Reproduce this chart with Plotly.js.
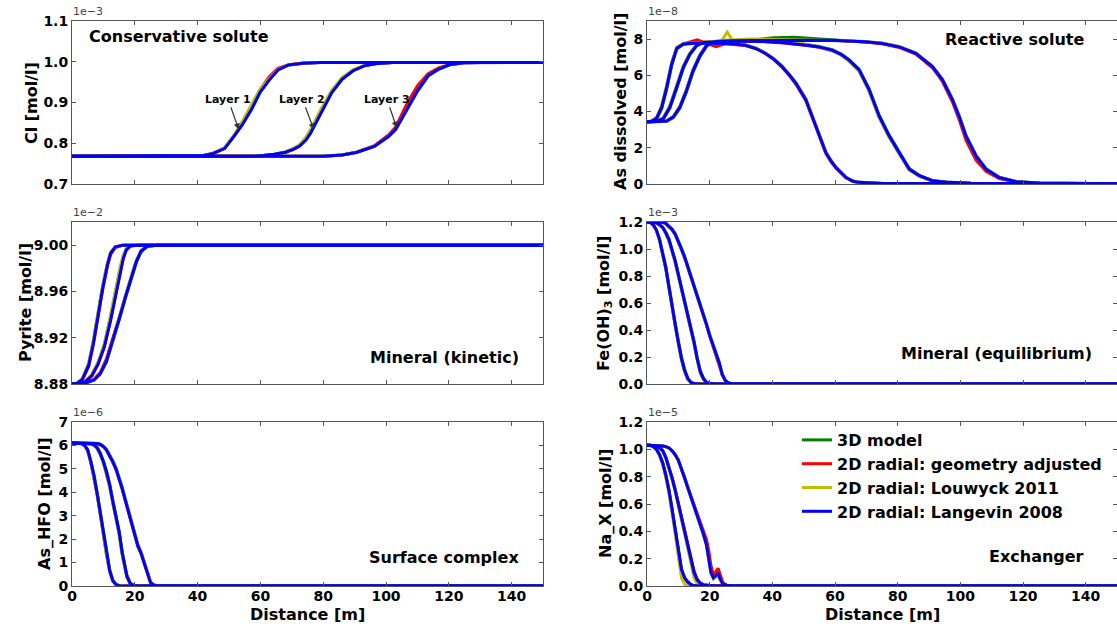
<!DOCTYPE html>
<html>
<head>
<meta charset="utf-8">
<script src="https://cdn.plot.ly/plotly-3.0.1.min.js"></script>
<style>html,body{margin:0;padding:0;background:#fff}#chart{width:1117px;height:624px}</style>
</head>
<body>
<div id="chart"></div>
<script>
// ---------------- series ----------------
const seriesNames = ['3D model', '2D radial: geometry adjusted', '2D radial: Louwyck 2011', '2D radial: Langevin 2008'];
const seriesColors = ['#008000', '#ff0000', '#bfbf00', '#0000ff'];

// ---------------- Conservative solute: Cl [1e-3 mol/l] ----------------
const clX1 = [0,40,42,45,48.6,51.4,54.2,57.1,59.9,62.8,65.6,69,73.6,79,150];
const cl1_3d  = [0.768,0.769,0.770,0.775,0.788,0.816,0.846,0.883,0.926,0.956,0.980,0.992,0.9965,0.998,0.998];
const cl1_geo = [0.768,0.769,0.770,0.775,0.788,0.816,0.847,0.886,0.931,0.963,0.984,0.993,0.9967,0.998,0.998];
const cl1_lou = [0.768,0.769,0.770,0.776,0.789,0.818,0.853,0.894,0.933,0.958,0.981,0.992,0.9965,0.998,0.998];
const cl1_lan = [0.768,0.769,0.770,0.775,0.787,0.815,0.845,0.882,0.925,0.955,0.980,0.992,0.9965,0.998,0.998];
const clX2 = [0,58,61,64.5,68,70.5,72.5,74.5,76,79.3,82.7,86,89.5,93,97.5,102,150];
const cl2_3d  = [0.768,0.768,0.770,0.773,0.778,0.786,0.794,0.809,0.826,0.876,0.925,0.957,0.978,0.990,0.996,0.998,0.998];
const cl2_geo = [0.768,0.768,0.770,0.773,0.778,0.785,0.794,0.810,0.828,0.879,0.927,0.959,0.979,0.990,0.996,0.998,0.998];
const cl2_lou = [0.768,0.768,0.770,0.773,0.779,0.787,0.797,0.815,0.834,0.884,0.930,0.961,0.980,0.991,0.996,0.998,0.998];
const cl2_lan = [0.768,0.768,0.770,0.773,0.778,0.785,0.793,0.808,0.825,0.875,0.924,0.957,0.978,0.990,0.996,0.998,0.998];
const clX3 = [0,80,86,90.6,96.3,100.9,103.1,106.6,110,113.4,116.8,120.2,124.8,130,150];
const cl3_3d  = [0.768,0.768,0.771,0.778,0.793,0.820,0.837,0.885,0.929,0.965,0.982,0.9926,0.9975,0.998,0.998];
const cl3_geo = [0.768,0.768,0.771,0.778,0.794,0.821,0.840,0.896,0.941,0.971,0.985,0.9935,0.9977,0.998,0.998];
const cl3_lou = [0.768,0.768,0.771,0.7775,0.792,0.817,0.833,0.881,0.926,0.964,0.981,0.9925,0.9975,0.998,0.998];
const cl3_lan = [0.768,0.768,0.771,0.7775,0.792,0.817,0.834,0.883,0.928,0.9655,0.982,0.9926,0.9975,0.998,0.998];

// ---------------- Reactive solute: As dissolved [1e-8 mol/l] ----------------
const asX1 = [0,1.5,3.1,4.7,6.3,7.9,9.5,11.6,16,22,25,28.2,31.4,34.8,37.8,40.4,43.1,45.3,47.5,50.7,52.7,54.9,57.1,58.7,60.3,63.5,65.8,67.7,71.4,75.2,150];
const as1_3d  = [3.43,3.46,3.6,4.15,5.25,6.55,7.45,7.72,7.78,7.8,7.77,7.73,7.67,7.5,7.23,6.92,6.5,6.07,5.6,4.68,3.76,2.68,1.75,1.3,0.92,0.37,0.15,0.09,0.05,0.03,0.02];
const as1_geo = [3.43,3.47,3.66,4.28,5.4,6.68,7.52,7.74,7.96,7.58,7.74,7.71,7.65,7.47,7.2,6.88,6.45,6.02,5.52,4.6,3.68,2.6,1.68,1.24,0.88,0.34,0.14,0.08,0.05,0.03,0.02];
const as1_lou = [3.43,3.48,3.7,4.35,5.48,6.72,7.55,7.75,7.8,7.8,7.77,7.73,7.67,7.5,7.24,6.93,6.52,6.08,5.6,4.7,3.8,2.72,1.8,1.33,0.95,0.38,0.16,0.09,0.05,0.03,0.02];
const as1_lan = [3.43,3.47,3.65,4.25,5.35,6.63,7.5,7.73,7.78,7.79,7.76,7.72,7.66,7.48,7.21,6.9,6.48,6.05,5.57,4.65,3.74,2.65,1.73,1.28,0.91,0.36,0.15,0.09,0.05,0.03,0.02];
const asX2 = [0,2,3.5,5.2,7.3,9.5,11.6,13.7,15.8,17.9,22,24,25.6,27.3,31,37.6,43.7,48.5,51.7,54.9,59.1,62,64.5,67.7,70.9,74.1,77.3,80.5,83.7,86.9,91.1,96.4,103.4,150];
const as2_3d  = [3.43,3.45,3.49,3.58,4.18,5.28,6.4,7.15,7.62,7.81,7.87,7.88,7.88,7.89,7.9,7.9,7.85,7.76,7.68,7.6,7.42,7.18,6.87,6.34,5.25,3.8,2.7,1.78,0.86,0.48,0.19,0.09,0.04,0.02];
const as2_geo = [3.43,3.45,3.51,3.64,4.3,5.4,6.5,7.22,7.66,7.83,7.86,7.87,7.87,7.88,7.88,7.86,7.79,7.71,7.63,7.55,7.36,7.12,6.8,6.25,5.14,3.68,2.6,1.68,0.78,0.44,0.17,0.08,0.04,0.02];
const as2_lou = [3.43,3.45,3.52,3.66,4.33,5.43,6.52,7.24,7.68,7.84,7.88,7.95,8.39,7.92,7.95,7.95,7.88,7.78,7.68,7.58,7.38,7.12,6.78,6.22,5.1,3.65,2.58,1.66,0.78,0.43,0.17,0.08,0.04,0.02];
const as2_lan = [3.43,3.45,3.5,3.61,4.25,5.35,6.45,7.18,7.64,7.82,7.87,7.88,7.88,7.89,7.89,7.87,7.8,7.72,7.65,7.57,7.39,7.15,6.84,6.3,5.2,3.74,2.65,1.73,0.82,0.46,0.18,0.09,0.04,0.02];
const asX3 = [0,3,6.3,8.4,10.5,12.6,14.7,16.9,19,20.6,23.5,32.9,40.4,47,51.7,59.1,63.9,69.8,75.1,80.5,85.8,91.1,94.3,97.5,99.6,101.8,105,108.2,112.4,117.8,125.2,150];
const as3_3d  = [3.43,3.44,3.46,3.66,4.18,5.08,6.18,7.03,7.6,7.8,7.88,7.94,8.08,8.1,8.05,7.97,7.92,7.86,7.77,7.58,7.23,6.5,5.78,4.7,3.8,2.7,1.6,0.85,0.38,0.14,0.05,0.02];
const as3_geo = [3.43,3.44,3.49,3.72,4.28,5.2,6.3,7.12,7.66,7.83,7.88,7.92,7.93,7.93,7.93,7.93,7.89,7.84,7.74,7.54,7.17,6.42,5.66,4.52,3.58,2.42,1.32,0.7,0.3,0.11,0.04,0.02];
const as3_lou = [3.43,3.44,3.49,3.73,4.3,5.22,6.32,7.13,7.67,7.84,7.93,8.0,7.98,7.96,7.95,7.95,7.91,7.87,7.79,7.6,7.24,6.52,5.8,4.7,3.78,2.68,1.58,0.84,0.37,0.13,0.05,0.02];
const as3_lan = [3.43,3.44,3.48,3.7,4.25,5.16,6.26,7.09,7.64,7.82,7.88,7.92,7.93,7.94,7.94,7.94,7.9,7.85,7.76,7.57,7.21,6.48,5.75,4.65,3.74,2.65,1.55,0.82,0.36,0.13,0.05,0.02];

// ---------------- Mineral (kinetic): Pyrite [1e-2 mol/l] ----------------
const pyX1 = [0,1.5,3.3,5.3,6.8,8.3,9.8,11.3,12.3,13.8,16.3,150];
const py1_3d  = [8.880,8.8805,8.8845,8.897,8.917,8.942,8.965,8.984,8.993,8.9985,9.0,9.0];
const py1_geo = [8.880,8.8805,8.8835,8.895,8.914,8.939,8.962,8.982,8.992,8.998,9.0,9.0];
const py1_lou = [8.880,8.8806,8.885,8.898,8.918,8.943,8.966,8.985,8.994,8.9985,9.0,9.0];
const py1_lan = [8.880,8.8805,8.884,8.896,8.915,8.940,8.963,8.983,8.993,8.9985,9.0,9.0];
const pyX2 = [0,2.5,4.3,6.3,8.3,10.3,12.3,13.8,15.3,16.3,17.3,18.8,21.3,150];
const py2_3d  = [8.880,8.8805,8.882,8.887,8.898,8.914,8.938,8.959,8.979,8.990,8.997,8.9995,9.0,9.0];
const py2_geo = [8.880,8.8805,8.8825,8.888,8.898,8.913,8.936,8.956,8.976,8.989,8.996,8.9995,9.0,9.0];
const py2_lou = [8.880,8.8805,8.882,8.888,8.899,8.915,8.940,8.962,8.981,8.991,8.997,8.9995,9.0,9.0];
const py2_lan = [8.880,8.8805,8.882,8.887,8.897,8.912,8.935,8.955,8.975,8.988,8.996,8.9995,9.0,9.0];
const pyX3 = [0,4,7,9,11,13,15,17,19,20.5,22,24,27,150];
const py3_3d  = [8.880,8.8805,8.8835,8.8885,8.899,8.916,8.935,8.954,8.972,8.985,8.994,8.999,9.0,9.0];
const py3_geo = [8.880,8.8805,8.884,8.890,8.902,8.919,8.937,8.956,8.974,8.986,8.995,8.999,9.0,9.0];
const py3_lou = [8.880,8.8805,8.8835,8.889,8.900,8.917,8.937,8.957,8.975,8.987,8.995,8.999,9.0,9.0];
const py3_lan = [8.880,8.8805,8.8835,8.889,8.900,8.917,8.936,8.955,8.973,8.986,8.995,8.999,9.0,9.0];

// ---------------- Mineral (equilibrium): Fe(OH)3 [1e-3 mol/l] ----------------
const feX1 = [0,1,2,3,4,5,6,7,8,9,10,11,12,13,14,15,17,150];
const fe1_3d  = [1.2,1.198,1.18,1.14,1.075,0.98,0.87,0.73,0.58,0.45,0.32,0.2,0.11,0.045,0.014,0.003,0,0];
const fe1_geo = [1.2,1.197,1.178,1.137,1.066,0.965,0.855,0.715,0.565,0.435,0.305,0.185,0.095,0.038,0.011,0.003,0,0];
const fe1_lou = [1.2,1.198,1.179,1.138,1.067,0.966,0.855,0.714,0.563,0.43,0.3,0.18,0.09,0.033,0.01,0.002,0,0];
const fe1_lan = [1.2,1.198,1.18,1.14,1.07,0.97,0.86,0.72,0.57,0.44,0.31,0.19,0.10,0.04,0.012,0.003,0,0];
const feX2 = [0,2,3,4,5,6,7,8,9,10,11,12,13,14,15,16,17,18,19,20,22,150];
const fe2_3d  = [1.2,1.2,1.195,1.182,1.162,1.124,1.075,0.995,0.915,0.815,0.715,0.61,0.53,0.43,0.32,0.2,0.1,0.045,0.014,0.003,0,0];
const fe2_geo = [1.2,1.2,1.194,1.178,1.157,1.116,1.064,0.985,0.905,0.805,0.705,0.595,0.515,0.415,0.305,0.185,0.088,0.038,0.011,0.003,0,0];
const fe2_lou = [1.2,1.2,1.194,1.178,1.156,1.115,1.063,0.983,0.9,0.8,0.7,0.59,0.505,0.405,0.295,0.175,0.08,0.034,0.01,0.002,0,0];
const fe2_lan = [1.2,1.2,1.195,1.18,1.16,1.12,1.07,0.99,0.91,0.81,0.71,0.6,0.52,0.42,0.31,0.19,0.09,0.04,0.012,0.003,0,0];
const feX3 = [0,4,5,6,7,8,9,10,11,12,13,14,15,16,17,18,19,20,21,22,23,24,25,26,27,30,150];
const fe3_3d  = [1.2,1.2,1.198,1.19,1.172,1.148,1.115,1.066,1.006,0.946,0.876,0.806,0.736,0.666,0.596,0.516,0.446,0.366,0.296,0.236,0.166,0.075,0.027,0.009,0.002,0,0];
const fe3_geo = [1.2,1.2,1.197,1.188,1.168,1.142,1.106,1.055,0.995,0.935,0.865,0.795,0.725,0.655,0.585,0.505,0.435,0.355,0.285,0.225,0.155,0.068,0.024,0.008,0.002,0,0];
const fe3_lou = [1.2,1.2,1.198,1.189,1.169,1.143,1.108,1.058,0.998,0.937,0.866,0.796,0.726,0.655,0.584,0.504,0.433,0.353,0.283,0.223,0.152,0.065,0.022,0.007,0.002,0,0];
const fe3_lan = [1.2,1.2,1.198,1.19,1.17,1.145,1.11,1.06,1.0,0.94,0.87,0.8,0.73,0.66,0.59,0.51,0.44,0.36,0.29,0.23,0.16,0.07,0.025,0.008,0.002,0,0];

// ---------------- Surface complex: As_HFO [1e-6 mol/l] ----------------
const hfX1 = [0,2,3,4,5,6,7,8,9,10,11,12,13,14,15,17,150];
const hf1_3d  = [6.1,6.1,6.08,6.01,5.82,5.34,4.75,4.0,3.15,2.26,1.4,0.7,0.26,0.08,0.015,0,0];
const hf1_geo = [6.1,6.1,6.08,6.0,5.79,5.28,4.67,3.92,3.07,2.17,1.32,0.63,0.21,0.055,0.01,0,0];
const hf1_lou = [6.1,6.1,6.07,5.99,5.78,5.26,4.65,3.9,3.05,2.15,1.3,0.62,0.2,0.05,0.008,0,0];
const hf1_lan = [6.1,6.1,6.08,6.0,5.8,5.3,4.7,3.95,3.1,2.2,1.35,0.65,0.22,0.06,0.01,0,0];
const hfX2 = [0,4,6,7,8,9,10,11,12,13,14,15,16,16.8,17.5,18.5,19.5,21,23,150];
const hf2_3d  = [6.1,6.1,6.07,6.03,5.92,5.68,5.34,4.9,4.36,3.66,3.0,2.36,1.46,0.86,0.45,0.14,0.035,0.006,0,0];
const hf2_geo = [6.1,6.1,6.06,6.01,5.88,5.62,5.27,4.82,4.27,3.57,2.92,2.27,1.37,0.77,0.38,0.11,0.028,0.005,0,0];
const hf2_lou = [6.1,6.1,6.06,6.0,5.87,5.6,5.24,4.78,4.22,3.52,2.86,2.2,1.3,0.72,0.35,0.1,0.025,0.004,0,0];
const hf2_lan = [6.1,6.1,6.07,6.02,5.9,5.65,5.3,4.85,4.3,3.6,2.95,2.3,1.4,0.8,0.4,0.12,0.03,0.005,0,0];
const hfX3 = [0,6,8,9,10,11,12,13,14,15,16,17,18,19,20,21,22,23,24,25,26,27,29,150];
const hf3_3d  = [6.1,6.1,6.08,6.05,5.97,5.83,5.61,5.35,5.05,4.66,4.21,3.71,3.21,2.71,2.21,1.76,1.45,1.05,0.55,0.17,0.045,0.01,0,0];
const hf3_geo = [6.1,6.1,6.08,6.03,5.94,5.79,5.55,5.28,4.98,4.58,4.13,3.63,3.13,2.63,2.13,1.68,1.38,0.98,0.48,0.14,0.04,0.01,0,0];
const hf3_lou = [6.1,6.1,6.08,6.04,5.95,5.81,5.58,5.31,5.02,4.62,4.17,3.67,3.17,2.67,2.17,1.72,1.42,1.02,0.52,0.16,0.04,0.01,0,0];
const hf3_lan = [6.1,6.1,6.08,6.04,5.95,5.8,5.57,5.3,5.0,4.6,4.15,3.65,3.15,2.65,2.15,1.7,1.4,1.0,0.5,0.15,0.04,0.01,0,0];

// ---------------- Exchanger: Na_X [1e-5 mol/l] ----------------
const naX1 = [0,1,2,3,4,5,6,7,8,9,10,11,12,13,14,15,17,150];
const na1_3d  = [1.03,1.03,1.02,1.0,0.962,0.905,0.815,0.705,0.565,0.415,0.255,0.125,0.062,0.03,0.01,0.003,0,0];
const na1_geo = [1.03,1.03,1.019,0.998,0.958,0.897,0.806,0.695,0.554,0.404,0.245,0.117,0.058,0.028,0.01,0.003,0,0];
const na1_lou = [1.03,1.03,1.018,0.996,0.954,0.89,0.795,0.68,0.535,0.38,0.21,0.06,0.012,0.003,0,0,0,0];
const na1_lan = [1.03,1.03,1.02,1.0,0.96,0.9,0.81,0.7,0.56,0.41,0.25,0.12,0.06,0.03,0.01,0.003,0,0];
const naX2 = [0,2,3,4,5,6,7,8,9,10,11,12,13,14,15,16,17,18,20,22,150];
const na2_3d  = [1.03,1.03,1.025,1.011,0.992,0.944,0.875,0.795,0.705,0.606,0.516,0.416,0.316,0.206,0.105,0.048,0.021,0.008,0.002,0,0];
const na2_geo = [1.03,1.03,1.025,1.01,0.99,0.941,0.872,0.793,0.704,0.605,0.516,0.418,0.32,0.212,0.11,0.05,0.022,0.009,0.002,0,0];
const na2_lou = [1.03,1.03,1.024,1.008,0.986,0.935,0.863,0.781,0.69,0.589,0.497,0.395,0.29,0.17,0.06,0.015,0.004,0.001,0,0,0];
const na2_lan = [1.03,1.03,1.025,1.01,0.99,0.94,0.87,0.79,0.7,0.6,0.51,0.41,0.31,0.2,0.1,0.045,0.02,0.008,0.002,0,0];
const naX3 = [0,4,5,6,7,8,9,10,11,12,13,14,15,16,17,18,19,19.7,20.4,21.2,22,22.7,23.4,24.2,25.5,28,150];
const na3_3d  = [1.03,1.03,1.025,1.02,1.01,0.991,0.962,0.923,0.864,0.795,0.726,0.661,0.596,0.526,0.456,0.386,0.306,0.205,0.104,0.062,0.076,0.09,0.05,0.015,0.004,0,0];
const na3_geo = [1.03,1.03,1.025,1.02,1.01,0.99,0.96,0.92,0.86,0.79,0.722,0.658,0.594,0.526,0.458,0.392,0.34,0.26,0.15,0.08,0.11,0.13,0.08,0.025,0.006,0,0];
const na3_lou = [1.03,1.03,1.025,1.019,1.008,0.988,0.958,0.918,0.857,0.786,0.716,0.65,0.585,0.514,0.443,0.372,0.292,0.19,0.09,0.05,0.065,0.08,0.04,0.012,0.003,0,0];
const na3_lan = [1.03,1.03,1.025,1.02,1.01,0.99,0.96,0.92,0.86,0.79,0.72,0.655,0.59,0.52,0.45,0.38,0.3,0.2,0.1,0.06,0.075,0.09,0.05,0.015,0.004,0,0];

// ---------------- axis ticks & labels ----------------
const distTicks = [0,20,40,60,80,100,120,140];
const clTicks = [0.7,0.8,0.9,1.0,1.1];       const clTickText = ['0.7','0.8','0.9','1.0','1.1'];
const asTicks = [0,2,4,6,8];                 const asTickText = ['0','2','4','6','8'];
const pyTicks = [8.88,8.92,8.96,9.00];       const pyTickText = ['8.88','8.92','8.96','9.00'];
const feTicks = [0,0.2,0.4,0.6,0.8,1.0,1.2]; const feTickText = ['0.0','0.2','0.4','0.6','0.8','1.0','1.2'];
const hfTicks = [0,1,2,3,4,5,6,7];           const hfTickText = ['0','1','2','3','4','5','6','7'];
const naTicks = [0,0.2,0.4,0.6,0.8,1.0,1.2]; const naTickText = ['0.0','0.2','0.4','0.6','0.8','1.0','1.2'];

const yTitles = ['Cl [mol/l]', 'As dissolved [mol/l]', 'Pyrite [mol/l]', 'Fe(OH)<sub>3</sub> [mol/l]', 'As_HFO [mol/l]', 'Na_X [mol/l]'];
const panelLabels = ['Conservative solute', 'Reactive solute', 'Mineral (kinetic)', 'Mineral (equilibrium)', 'Surface complex', 'Exchanger'];
const exponents = ['1e\u22123', '1e\u22128', '1e\u22122', '1e\u22123', '1e\u22126', '1e\u22125'];
const layerNames = ['Layer 1', 'Layer 2', 'Layer 3'];
const xTitle = 'Distance [m]';

// ---------------- assemble ----------------
const panelData = [
  [[clX1, cl1_3d, cl1_geo, cl1_lou, cl1_lan], [clX2, cl2_3d, cl2_geo, cl2_lou, cl2_lan], [clX3, cl3_3d, cl3_geo, cl3_lou, cl3_lan]],
  [[asX1, as1_3d, as1_geo, as1_lou, as1_lan], [asX2, as2_3d, as2_geo, as2_lou, as2_lan], [asX3, as3_3d, as3_geo, as3_lou, as3_lan]],
  [[pyX1, py1_3d, py1_geo, py1_lou, py1_lan], [pyX2, py2_3d, py2_geo, py2_lou, py2_lan], [pyX3, py3_3d, py3_geo, py3_lou, py3_lan]],
  [[feX1, fe1_3d, fe1_geo, fe1_lou, fe1_lan], [feX2, fe2_3d, fe2_geo, fe2_lou, fe2_lan], [feX3, fe3_3d, fe3_geo, fe3_lou, fe3_lan]],
  [[hfX1, hf1_3d, hf1_geo, hf1_lou, hf1_lan], [hfX2, hf2_3d, hf2_geo, hf2_lou, hf2_lan], [hfX3, hf3_3d, hf3_geo, hf3_lou, hf3_lan]],
  [[naX1, na1_3d, na1_geo, na1_lou, na1_lan], [naX2, na2_3d, na2_geo, na2_lou, na2_lan], [naX3, na3_3d, na3_geo, na3_lou, na3_lan]]
];
const yRanges = [[0.7,1.1],[0,9],[8.88,9.02],[0,1.2],[0,7],[0,1.2]];
const yTickSets = [[clTicks,clTickText],[asTicks,asTickText],[pyTicks,pyTickText],[feTicks,feTickText],[hfTicks,hfTickText],[naTicks,naTickText]];

const W = 1117, H = 624;
const fx = p => p / W;
const fy = p => 1 - p / H;
const colPx = [[72, 543], [647, 1117]];
const rowPx = [[21, 184], [222, 384], [422, 586]];
const FONT = 'DejaVu Sans';
const AXC = '#555';

const traces = [];
for (let s = 0; s < 4; s++) {
  for (let p = 0; p < 6; p++) {
    const sfx = p === 0 ? '' : String(p + 1);
    panelData[p].forEach((layer, li) => {
      traces.push({
        type: 'scatter', mode: 'lines',
        x: layer[0], y: layer[s + 1],
        xaxis: 'x' + sfx, yaxis: 'y' + sfx,
        name: seriesNames[s], legendgroup: seriesNames[s],
        showlegend: p === 0 && li === 0,
        line: {color: seriesColors[s], width: 3},
        hoverinfo: 'skip'
      });
    });
  }
}

const layout = {
  width: W, height: H,
  margin: {l: 0, r: 0, t: 0, b: 0},
  paper_bgcolor: '#fff', plot_bgcolor: '#fff',
  font: {family: FONT, size: 14, color: '#000', weight: 'bold'},
  showlegend: true,
  legend: {
    x: fx(797), xanchor: 'left', y: fy(423), yanchor: 'top',
    font: {family: FONT, size: 16, color: '#000', weight: 'bold'},
    bgcolor: 'rgba(0,0,0,0)', borderwidth: 0, tracegroupgap: 0, itemwidth: 30
  },
  annotations: []
};

for (let p = 0; p < 6; p++) {
  const col = p % 2, row = Math.floor(p / 2);
  const sfx = p === 0 ? '' : String(p + 1);
  const [x0, x1] = colPx[col];
  const [y0, y1] = rowPx[row];
  layout['xaxis' + sfx] = {
    domain: [fx(x0), fx(x1)], anchor: 'y' + sfx, range: [0, 150],
    tickvals: distTicks, ticktext: distTicks.map(String),
    showticklabels: row === 2, ticklabelstandoff: -3,
    ticks: 'inside', ticklen: 4, tickcolor: AXC, tickwidth: 1,
    mirror: 'allticks', showline: true, linecolor: AXC, linewidth: 1,
    showgrid: false, zeroline: false, automargin: false,
    tickfont: {family: FONT, size: 14, color: '#000', weight: 'bold'}
  };
  layout['yaxis' + sfx] = {
    domain: [fy(y1), fy(y0)], anchor: 'x' + sfx, range: yRanges[p],
    tickvals: yTickSets[p][0], ticktext: yTickSets[p][1],
    ticks: 'inside', ticklen: 4, tickcolor: AXC, tickwidth: 1,
    mirror: 'allticks', showline: true, linecolor: AXC, linewidth: 1,
    showgrid: false, zeroline: false, automargin: false,
    tickfont: {family: FONT, size: 14, color: '#000', weight: 'bold'}
  };
  layout.annotations.push({
    xref: 'paper', yref: 'paper', x: fx(x0 - 1), y: fy(y0 - 1), xanchor: 'left', yanchor: 'bottom',
    text: exponents[p], showarrow: false,
    font: {family: FONT, size: 11, color: '#444', weight: 'normal'}
  });
}

// y axis titles
const yTitlePx = [[32, 103], [621, 102], [25, 303], [604, 303], [44, 504], [605, 504]];
yTitles.forEach((t, i) => layout.annotations.push({
  xref: 'paper', yref: 'paper', x: fx(yTitlePx[i][0]), y: fy(yTitlePx[i][1]),
  xanchor: 'center', yanchor: 'middle', textangle: -90, text: t, showarrow: false,
  font: {family: FONT, size: 16, color: '#000', weight: 'bold'}
}));
// x axis titles
[307.5, 882].forEach(cx => layout.annotations.push({
  xref: 'paper', yref: 'paper', x: fx(cx), y: fy(614), xanchor: 'center', yanchor: 'middle',
  text: xTitle, showarrow: false, font: {family: FONT, size: 16, color: '#000', weight: 'bold'}
}));
// panel labels
const panelLabelPos = [[87, 36, 'left'], [1086, 39, 'right'], [521, 357, 'right'], [1094, 353, 'right'], [521, 557, 'right'], [1086, 556, 'right']];
panelLabels.forEach((t, i) => layout.annotations.push({
  xref: 'paper', yref: 'paper', x: fx(panelLabelPos[i][0]), y: fy(panelLabelPos[i][1]),
  xanchor: panelLabelPos[i][2], yanchor: 'middle', text: t, showarrow: false,
  font: {family: FONT, size: 16, color: '#000', weight: 'bold'}
}));
// layer labels with arrows (Cl panel, data coords)
const layerTip = [[53.1, 0.834], [77.0, 0.834], [103.4, 0.838]];
const layerText = [[49.7, 0.908], [73.4, 0.908], [100.3, 0.908]];
layerNames.forEach((t, i) => layout.annotations.push({
  xref: 'x', yref: 'y', axref: 'x', ayref: 'y',
  x: layerTip[i][0], y: layerTip[i][1], ax: layerText[i][0], ay: layerText[i][1],
  text: t, showarrow: true, arrowhead: 2, arrowsize: 1, arrowwidth: 1.2, arrowcolor: '#333',
  font: {family: FONT, size: 11, color: '#000', weight: 'bold'}
}));

Plotly.newPlot('chart', traces, layout, {displayModeBar: false, staticPlot: true});
</script>
</body>
</html>
